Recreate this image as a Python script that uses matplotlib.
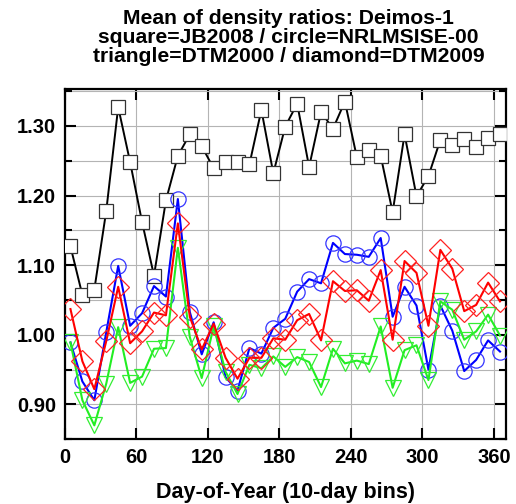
import numpy as np
import matplotlib
matplotlib.use("Agg")
import matplotlib.pyplot as plt
from matplotlib.ticker import MultipleLocator, FormatStrFormatter

plt.rcParams['font.family'] = ['Liberation Sans', 'DejaVu Sans']
plt.rcParams['font.weight'] = 'bold'

# 10-day bin centres (day of year)
days = np.arange(5, 366, 10)

jb2008 = [1.127, 1.057, 1.065, 1.178, 1.327, 1.248, 1.162, 1.085, 1.193, 1.257,
          1.288, 1.271, 1.239, 1.248, 1.248, 1.245, 1.323, 1.232, 1.299, 1.332,
          1.241, 1.320, 1.296, 1.335, 1.255, 1.265, 1.257, 1.176, 1.288, 1.199,
          1.228, 1.280, 1.272, 1.281, 1.270, 1.283, 1.288]

nrlmsise = [0.989, 0.933, 0.906, 1.004, 1.099, 1.013, 1.031, 1.070, 1.055, 1.195,
            1.033, 0.972, 1.018, 0.939, 0.920, 0.981, 0.973, 1.010, 1.023, 1.062,
            1.080, 1.074, 1.132, 1.116, 1.115, 1.112, 1.139, 1.026, 1.069, 1.042,
            0.950, 1.042, 1.006, 0.948, 0.964, 0.992, 0.976]

dtm2000 = [0.989, 0.906, 0.870, 0.930, 1.011, 0.931, 0.940, 0.980, 0.981, 1.125,
           0.997, 0.938, 1.012, 0.947, 0.915, 0.957, 0.952, 0.969, 0.954, 0.968,
           0.961, 0.925, 0.980, 0.959, 0.963, 0.958, 1.012, 0.924, 0.978, 0.985,
           0.935, 1.048, 1.036, 0.993, 1.005, 1.029, 0.999]

dtm2009 = [1.037, 0.962, 0.922, 0.991, 1.069, 0.988, 1.005, 1.032, 1.028, 1.160,
           1.026, 0.979, 1.016, 0.967, 0.937, 0.967, 0.967, 0.995, 0.993, 1.021,
           1.030, 0.992, 1.077, 1.063, 1.064, 1.049, 1.093, 0.993, 1.106, 1.089,
           1.013, 1.122, 1.095, 1.034, 1.043, 1.075, 1.048]

fig = plt.figure(figsize=(5.16, 5.04), dpi=100)
ax = fig.add_axes([0.125, 0.1284, 0.8556, 0.695])

ax.plot(days, jb2008, color='black', lw=1.4, marker='s', ms=10.5,
        mfc='white', mec='#333333', mew=0.9, zorder=3)
ax.plot(days, nrlmsise, color='#0000ff', lw=1.5, marker='o', ms=11,
        mfc='none', mec='#3333ff', mew=0.9, zorder=4)
ax.plot(days, dtm2000, color='#22ee22', lw=1.5, marker='v', ms=11.5,
        mfc='none', mec='#33ee33', mew=0.9, zorder=5)
ax.plot(days, dtm2009, color='#ff0000', lw=1.5, marker='D', ms=11.5,
        mfc='none', mec='#ff2222', mew=0.9, zorder=6)

ax.set_xlim(0, 370)
ax.set_ylim(0.85, 1.353)
ax.xaxis.set_major_locator(MultipleLocator(60))
ax.yaxis.set_major_locator(MultipleLocator(0.1))
ax.yaxis.set_minor_locator(MultipleLocator(0.05))
ax.yaxis.set_major_formatter(FormatStrFormatter('%.2f'))

ax.grid(True, which='major', axis='x', color='#b4b4b4', lw=0.8)
ax.grid(True, which='both', axis='y', color='#b4b4b4', lw=0.8)
ax.set_axisbelow(True)

ax.tick_params(which='both', direction='in', top=True, right=True,
               labelsize=14.5, width=1.5, pad=6)
ax.tick_params(which='major', length=8)
ax.tick_params(which='minor', length=5)
for sp in ax.spines.values():
    sp.set_linewidth(1.6)

ax.set_xlabel('Day-of-Year (10-day bins)', fontsize=15.5, fontweight='bold',
              labelpad=11)

title_lines = ['Mean of density ratios: Deimos-1',
               'square=JB2008 / circle=NRLMSISE-00',
               'triangle=DTM2000 / diamond=DTM2009']
for k, line in enumerate(title_lines):
    fig.text(0.559, 1 - (18 + 19.5 * k) / 504, line, ha='center', va='center',
             fontsize=15.2, fontweight='bold')

fig.savefig('out.png', dpi=100, facecolor='white')
